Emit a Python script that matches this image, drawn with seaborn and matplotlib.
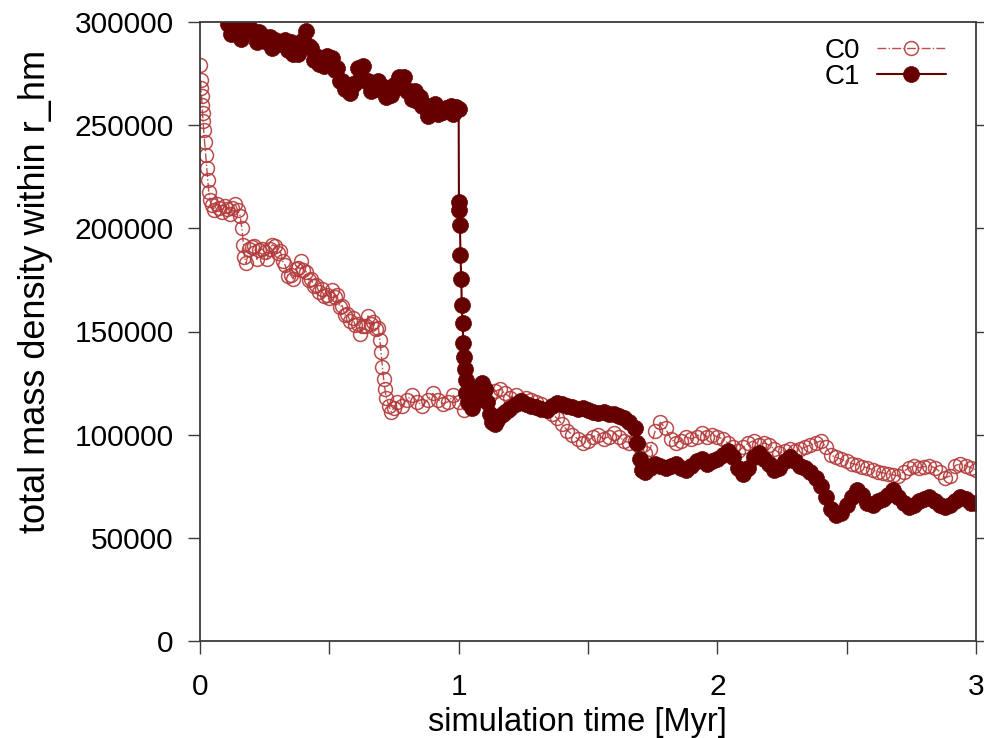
import matplotlib
matplotlib.use("Agg")
import matplotlib.pyplot as plt
import pandas as pd
import seaborn as sns

# ---------------- data ----------------
c0_time = [
    0.000, 0.002, 0.004, 0.006, 0.008, 0.010, 0.012, 0.014, 0.018, 0.022, 0.026, 0.030, 0.034, 0.038, 0.045,
    0.055, 0.065, 0.075, 0.085, 0.095, 0.105, 0.115, 0.125, 0.135, 0.145, 0.155,
    0.162, 0.168, 0.172, 0.178,
    0.19, 0.20, 0.21, 0.22, 0.23, 0.24, 0.25, 0.26, 0.27, 0.28, 0.29, 0.30,
    0.31, 0.32, 0.33, 0.34, 0.35, 0.36, 0.37, 0.38, 0.39, 0.40,
    0.41, 0.42, 0.43, 0.44, 0.45, 0.46, 0.47, 0.48, 0.49, 0.50,
    0.51, 0.52, 0.53, 0.54, 0.55, 0.56, 0.57, 0.58, 0.59, 0.60,
    0.61, 0.62, 0.63, 0.64, 0.65, 0.66, 0.67, 0.68, 0.69,
    0.695, 0.700, 0.705, 0.710, 0.715, 0.720, 0.730, 0.740, 0.750,
    0.76, 0.78, 0.80, 0.82, 0.84, 0.86, 0.88, 0.90, 0.92, 0.94, 0.96, 0.98, 1.00, 1.02, 1.04,
    1.06, 1.08, 1.10, 1.12, 1.14, 1.16, 1.18, 1.20, 1.22, 1.24, 1.26, 1.28, 1.30, 1.32, 1.34, 1.36,
    1.38, 1.40, 1.42, 1.44, 1.46, 1.48, 1.50, 1.52, 1.54, 1.56, 1.58, 1.60, 1.62, 1.64, 1.66, 1.68,
    1.70, 1.72, 1.74, 1.76, 1.78, 1.80, 1.82, 1.84, 1.86, 1.88, 1.90, 1.92, 1.94, 1.96, 1.98, 2.00,
    2.02, 2.04, 2.06, 2.08, 2.10, 2.12, 2.14, 2.16, 2.18, 2.20, 2.22, 2.24, 2.26, 2.28, 2.30, 2.32,
    2.34, 2.36, 2.38, 2.40, 2.42, 2.44, 2.46, 2.48, 2.50, 2.52, 2.54, 2.56, 2.58, 2.60, 2.62, 2.64,
    2.66, 2.68, 2.70, 2.72, 2.74, 2.76, 2.78, 2.80, 2.82, 2.84, 2.86, 2.88, 2.90, 2.92, 2.94, 2.96,
    2.98, 3.00,
]
c0_density = [
    279000, 272000, 268000, 264000, 260000, 256000, 252000, 247600, 241800, 235500, 229200, 223400, 217600, 213700, 211300,
    209000, 212000, 210000, 208000, 211000, 209500, 207000, 210000, 212000, 209000, 206000,
    200000, 192000, 186000, 183000,
    190000, 191000, 191500, 185000, 189500, 190000, 188500, 185000, 190000, 192000, 191500, 188000,
    189000, 184000, 182000, 177000, 177500, 175500, 180500, 181000, 184000, 180000,
    179000, 175000, 175500, 172000, 172500, 169000, 170500, 167000, 167500, 166000,
    170000, 166500, 167500, 162000, 162500, 158000, 158500, 155000, 156500, 153000,
    153500, 149000, 152500, 152500, 157500, 153500, 154500, 151000, 151500,
    146000, 140000, 133000, 127000, 122000, 118000, 114000, 111000, 113000,
    116000, 114000, 117000, 119000, 116000, 114000, 117000, 120000, 117000, 115000, 116000, 119000, 116000, 112000, 115000,
    118000, 120000, 121000, 119000, 121000, 122000, 120000, 118000, 119000, 117000, 118000, 117000, 116000, 115000, 112000, 110000,
    108000, 105000, 102000, 100000, 98000, 96000, 97000, 99000, 100000, 98000, 99000, 101000, 99000, 97000, 96000, 97000,
    94000, 91000, 93000, 102000, 106000, 103000, 98000, 96000, 97000, 99000, 98000, 99000, 101000, 99000, 100000, 99000,
    98000, 96000, 94000, 92000, 94000, 96000, 97000, 95000, 96000, 95000, 93000, 91000, 92000, 93000, 92000, 93000,
    94000, 95000, 96000, 97000, 94000, 90000, 89000, 88000, 87000, 86000, 85500, 84500, 84000, 83000, 82000, 81500,
    81000, 80500, 80000, 82000, 84000, 85000, 84000, 84500, 85000, 84000, 82000, 79000, 80000, 85000, 86000, 85000,
    84000, 83000,
]

c1_time = [
    0.11, 0.12, 0.13, 0.14, 0.15, 0.16, 0.17, 0.18, 0.19, 0.20,
    0.21, 0.22, 0.23, 0.24, 0.25, 0.26, 0.27, 0.28, 0.29, 0.30,
    0.31, 0.32, 0.33, 0.34, 0.35, 0.36, 0.37, 0.38, 0.39, 0.40,
    0.41, 0.42, 0.43, 0.44, 0.45, 0.46, 0.47, 0.48, 0.49, 0.50,
    0.51, 0.52, 0.53, 0.54, 0.55, 0.56, 0.57, 0.58, 0.59, 0.60,
    0.61, 0.62, 0.63, 0.64, 0.65, 0.66, 0.67, 0.68, 0.69, 0.70,
    0.71, 0.72, 0.73, 0.74, 0.75, 0.76, 0.77, 0.78, 0.79, 0.80,
    0.81, 0.82, 0.83, 0.84, 0.85, 0.86, 0.87, 0.88, 0.89, 0.90,
    0.91, 0.92, 0.93, 0.94, 0.95, 0.96, 0.97, 0.98, 0.99, 1.000,
    1.001, 1.003, 1.005, 1.007, 1.010, 1.012, 1.015, 1.018, 1.021, 1.024, 1.027, 1.030, 1.035,
    1.04, 1.05, 1.06, 1.07, 1.08, 1.09, 1.10, 1.11, 1.12, 1.13, 1.14, 1.15, 1.16, 1.17, 1.18, 1.19, 1.20,
    1.22, 1.24, 1.26, 1.28, 1.30, 1.32, 1.34, 1.36, 1.38, 1.40, 1.42, 1.44,
    1.46, 1.48, 1.50, 1.52, 1.54, 1.56, 1.58, 1.60, 1.62, 1.64, 1.66, 1.68,
    1.69, 1.70, 1.71,
    1.72, 1.74, 1.76, 1.78, 1.80, 1.82, 1.84, 1.86, 1.88, 1.90, 1.92, 1.94, 1.96, 1.98, 2.00,
    2.02, 2.04, 2.06, 2.08, 2.10, 2.12, 2.14, 2.16, 2.18, 2.20, 2.22, 2.24, 2.26, 2.28, 2.30, 2.32,
    2.34, 2.36, 2.38, 2.40, 2.42, 2.44, 2.46, 2.48, 2.50, 2.52, 2.54, 2.56, 2.58, 2.60, 2.62, 2.64,
    2.66, 2.68, 2.70, 2.72, 2.74, 2.76, 2.78, 2.80, 2.82, 2.84, 2.86, 2.88, 2.90, 2.92, 2.94, 2.96,
    2.98, 3.00,
]
c1_density = [
    299000, 294000, 298000, 299000, 297000, 292000, 297500, 298000, 302000, 296000,
    295000, 290500, 295000, 292000, 292500, 290500, 292500, 287500, 291500, 289500,
    290500, 289500, 291500, 286500, 290500, 284500, 285500, 284500, 290500, 291500,
    295500, 288500, 287500, 281500, 283500, 279500, 280500, 278500, 283500, 281500,
    282500, 276500, 277500, 271500, 271500, 267500, 269500, 265500, 269500, 270500,
    277500, 276500, 278500, 271500, 271500, 266500, 268500, 267500, 271500, 267500,
    268500, 263500, 265500, 264500, 269500, 268500, 273500, 271500, 273500, 266500,
    266500, 262500, 266500, 261500, 263500, 259500, 259500, 254500, 259500, 258500,
    260500, 255500, 257500, 256500, 258500, 257500, 259500, 255500, 259000, 258000,
    213000, 209000, 201500, 187000, 175400, 162800, 154000, 144400, 137600, 132000, 126500, 120000, 116000,
    117000, 113000, 116000, 120000, 123000, 125000, 122000, 116000, 110000, 106000, 105000, 107000, 109000, 110000, 111000, 112000, 113000,
    115000, 116500, 115000, 114000, 113500, 112500, 112000, 114000, 115500, 115000, 114000, 113500,
    112500, 113000, 112000, 111000, 110500, 111000, 110000, 110000, 109000, 108000, 106000, 103000,
    96000, 88000, 83000,
    82000, 84000, 86000, 85000, 84000, 85000, 86000, 84000, 83000, 85000, 87000, 88000, 86000, 87000, 88000,
    90000, 92000, 89000, 84000, 81000, 84000, 89000, 91000, 88000, 86000, 83000, 84000, 87000, 89000, 87000, 85000,
    84000, 82000, 79000, 75000, 70000, 64000, 61000, 62000, 66000, 70000, 73000, 71000, 67000, 66000, 68000, 69000,
    71000, 73000, 70000, 67000, 65000, 66000, 68000, 69000, 70000, 68000, 66000, 65000, 66000, 68000, 70000, 69000,
    67000, 67000,
]

series_names = ["C0", "C1"]
x_ticks = [0, 1, 2, 3]
x_minor_ticks = [0.5, 1.5, 2.5]
y_ticks = [0, 50000, 100000, 150000, 200000, 250000, 300000]
x_label = "simulation time [Myr]"
y_label = "total mass density within r_hm"

# ---------------- styling ----------------
sns.set_theme(style="ticks")
plt.rcParams["font.family"] = ["Liberation Sans", "DejaVu Sans"]
plt.rcParams["text.color"] = "black"
plt.rcParams["axes.labelcolor"] = "black"
plt.rcParams["xtick.color"] = "black"
plt.rcParams["ytick.color"] = "black"

c0_color = "#b33a3a"
c1_color = "#660000"
axis_color = "#3a3a3a"
tick_fs = 21.5
xlabel_fs = 23.5
ylabel_fs = 26
legend_fs = 20

df0 = pd.DataFrame({"time": c0_time, "density": c0_density})
df1 = pd.DataFrame({"time": c1_time, "density": c1_density})

fig = plt.figure(figsize=(9.84, 7.38), dpi=100)
ax = fig.add_axes([200 / 984, 1 - 641 / 738, 776 / 984, 619 / 738])

sns.lineplot(data=df0, x="time", y="density", ax=ax, sort=False, errorbar=None,
             color=c0_color, linewidth=1.0, linestyle="-.",
             marker="o", markersize=10, markerfacecolor="none",
             markeredgecolor=c0_color, markeredgewidth=1.1, alpha=0.9,
             label=series_names[0])
sns.lineplot(data=df1, x="time", y="density", ax=ax, sort=False, errorbar=None,
             color=c1_color, linewidth=1.5, linestyle="-",
             marker="o", markersize=11.5, markerfacecolor=c1_color,
             markeredgecolor=c1_color, markeredgewidth=0.5,
             label=series_names[1])

ax.set_xlim(0, 3)
ax.set_ylim(0, 300000)
ax.set_xticks(x_ticks)
ax.set_xticks(x_minor_ticks, minor=True)
ax.set_yticks(y_ticks)
ax.set_xticklabels([str(v) for v in x_ticks])
ax.set_yticklabels([str(v) for v in y_ticks])

for s in ax.spines.values():
    s.set_visible(True)
    s.set_color(axis_color)
    s.set_linewidth(1.3)

ax.tick_params(axis="x", which="both", direction="out", length=9, width=1.0,
               color=axis_color, labelcolor="black", labelsize=tick_fs, pad=14,
               top=False, bottom=True)
ax.tick_params(axis="y", which="both", direction="out", length=9, width=1.0,
               color=axis_color, labelcolor="black", labelsize=tick_fs, pad=10,
               left=True, right=True)

ax.set_xlabel(x_label, fontsize=xlabel_fs, color="black")
ax.xaxis.set_label_coords(0.487, -0.107)
ax.set_ylabel(y_label, fontsize=ylabel_fs, color="black")
ax.yaxis.set_label_coords(-0.19, 0.565)

leg = ax.legend(loc="upper right", bbox_to_anchor=(0.99, 1.01), frameon=False,
                markerfirst=False, fontsize=legend_fs, handlelength=2.5,
                handletextpad=0.6, labelspacing=0.0, borderpad=0.3)
for t in leg.get_texts():
    t.set_color("black")

fig.savefig("out.png", dpi=100)
